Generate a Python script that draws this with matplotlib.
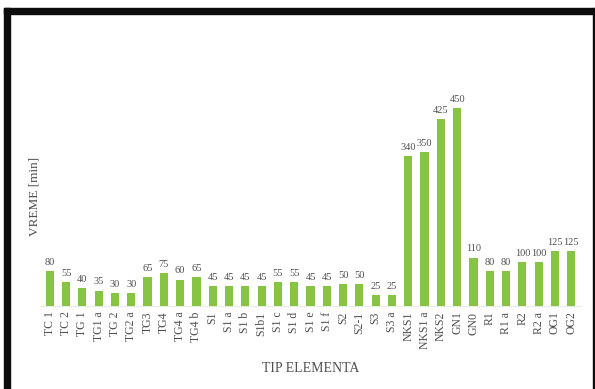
import matplotlib
matplotlib.use("Agg")
import matplotlib.pyplot as plt
from matplotlib.patches import Rectangle

plt.rcParams["font.family"] = ["Liberation Serif", "DejaVu Serif"]

elements = ["TC 1", "TC 2", "TG 1", "TG1 a", "TG 2", "TG2 a", "TG3", "TG4",
            "TG4 a", "TG4 b", "S1", "S1 a", "S1 b", "S1b1", "S1 c", "S1 d",
            "S1 e", "S1 f", "S2", "S2-1", "S3", "S3 a", "NKS1", "NKS1 a",
            "NKS2", "GN1", "GN0", "R1", "R1 a", "R2", "R2 a", "OG1", "OG2"]
minutes = [80, 55, 40, 35, 30, 30, 65, 75, 60, 65, 45, 45, 45, 45, 55, 55,
           45, 45, 50, 50, 25, 25, 340, 350, 425, 450, 110, 80, 80, 100, 100,
           125, 125]

GREEN = "#88c443"
TXT = "#505050"

W, H = 595, 389
fig = plt.figure(figsize=(W / 100, H / 100), dpi=100)
fig.patch.set_facecolor("white")

# frame: thick top and left bands, thin right line
fig.patches.append(Rectangle((4 / W, 0), 6 / W, 1 - 8 / H,
                             transform=fig.transFigure, color="#0d0d0d"))
fig.patches.append(Rectangle((4 / W, 1 - 14 / H), 1, 6 / H,
                             transform=fig.transFigure, color="#0d0d0d"))
fig.patches.append(Rectangle((592.5 / W, 0), 1.8 / W, 1 - 8 / H,
                             transform=fig.transFigure, color="#0d0d0d"))

ax = fig.add_axes([40 / W, 1 - 306 / H, 541 / W, 220 / H])
x = range(len(elements))
bars = ax.bar(x, minutes, width=0.5, color=GREEN, zorder=3)
ax.bar_label(bars, labels=[str(v) for v in minutes], padding=3,
             fontsize=7.5, color=TXT)

ax.set_xlim(-0.6, len(elements) - 0.4)
ax.set_ylim(0, 500)
ax.set_xticks(list(x))
ax.set_xticklabels(elements, rotation=90, fontsize=8.5, color=TXT)
ax.tick_params(axis="x", length=0, pad=4)
ax.set_yticks([])
for s in ("top", "right", "left"):
    ax.spines[s].set_visible(False)
ax.spines["bottom"].set_color("#e6eedb")
ax.spines["bottom"].set_linewidth(0.8)

fig.text(311 / W, 1 - 368.5 / H, "TIP ELEMENTA", fontsize=10, color=TXT,
         ha="center", va="center")
fig.text(34.5 / W, 1 - 196 / H, "VREME [min]", fontsize=9.5, color=TXT,
         ha="center", va="center", rotation=90)

fig.savefig("out.png", dpi=100)
